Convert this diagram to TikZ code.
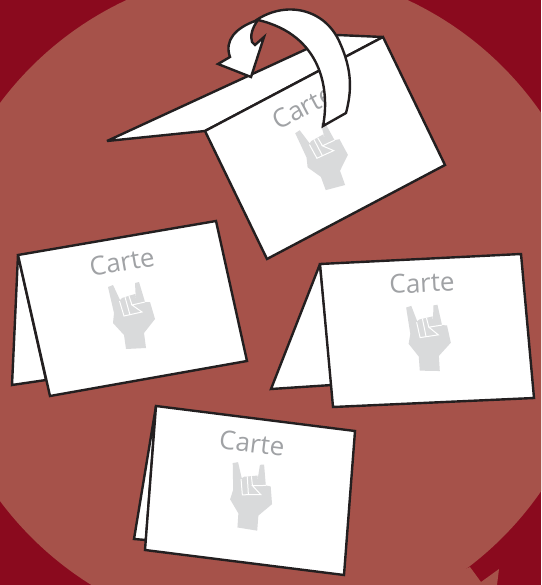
\documentclass[tikz,border=0pt]{standalone}
\usepackage{fontspec}
\setsansfont{Open Sans}
\usepackage{tikz}
\usetikzlibrary{calc}
\definecolor{darkred}{RGB}{138,10,30}
\definecolor{lightred}{RGB}{166,82,74}
\definecolor{cardtext}{RGB}{160,162,165}
\definecolor{handgrey}{RGB}{217,218,219}
\definecolor{cardline}{RGB}{35,31,32}
\tikzset{
  card/.style={draw=cardline, fill=white, line width=2.4pt, line join=miter, miter limit=3},
  cartelabel/.style={text=cardtext, font=\sffamily\fontsize{26}{26}\selectfont, inner sep=0pt},
  hand/.pic={
    \fill[handgrey] (-22,-30) -- (-17,-32) -- (-10,-17) -- (-8,-19) -- (5,-23) -- (6,-15)
      -- (5,-34) -- (9,-35) -- (15,-15) -- (20,-15) -- (25,2) -- (14,16) -- (16,31)
      -- (-4,32) -- (-6,18) -- (-17,6) -- (-16,-4) -- cycle;
    \draw[white, line width=1pt] (-10.5,-16) -- (-6,-1) -- (12,-5) -- (2,-12) -- (15,-15)
      (-5,-20) -- (0,-2) (2,-12) -- (-1,-21);
  }
}
\begin{document}
\begin{tikzpicture}[x=1pt,y=-1pt]
  \useasboundingbox (0,0) rectangle (541,585);
  \clip (0,0) rectangle (541,585);
  % background
  \fill[darkred] (0,0) rectangle (541,585);
  \fill[lightred] (267,302) circle (333);
  \fill[lightred] (470,567) -- (481,582) -- (499,569) -- (497,585) -- (430,585) -- cycle;
  % top card
  \draw[card] (107,141) -- (337,35) -- (383,37) -- (205,131) -- cycle;
  \draw[card] (205,131) -- (383,37) -- (445,165) -- (267,259) -- cycle;
  \node[cartelabel, rotate=28] (carteTop) at (303,107) {Carte};
  \pic[rotate=12] at (323,158) {hand};
  % left card
  \draw[card] (18,255) -- (12,385) -- (46,380) -- cycle;
  \draw[card] (18,255) -- (216,221) -- (247,361) -- (50,396) -- cycle;
  \node[cartelabel, rotate=10] (carteLeft) at (122,262) {Carte};
  \pic at (130,317) {hand};
  % right card
  \draw[card] (320,264) -- (271,389) -- (332,385) -- cycle;
  \draw[card] (320,264) -- (521,254) -- (534,398) -- (333,407) -- cycle;
  \node[cartelabel, rotate=3] (carteRight) at (422,283) {Carte};
  \pic[rotate=-4] at (426,339) {hand};
  % bottom card
  \draw[card] (156,406) -- (134,539) -- (146,540) -- cycle;
  \draw[card] (156,406) -- (355,431) -- (344,575) -- (145,550) -- cycle;
  \node[cartelabel, rotate=-7] (carteBottom) at (252,443) {Carte};
  \pic[rotate=-12] at (248,497) {hand};
  % turning arrow
  \draw[card, miter limit=6] (323,126) .. controls (330,90) and (322,35) .. (258,20)
    .. controls (252,28) and (250,36) .. (252,42) -- (255,45) -- (264,37) -- (251,77)
    -- (218,64) -- (230,57) .. controls (224,40) and (236,28) .. (255,21)
    .. controls (285,0) and (325,8) .. (340,43) .. controls (352,70) and (352,90) .. (346,113) -- cycle;
\end{tikzpicture}
\end{document}
